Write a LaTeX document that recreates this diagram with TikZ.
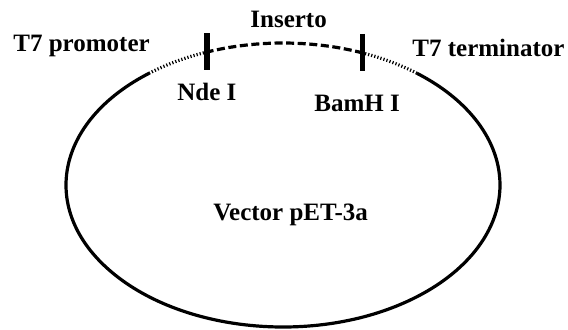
\documentclass[tikz,border=0pt]{standalone}
\usepackage{fontspec}
\setmainfont{Liberation Serif}
\begin{document}
\begin{tikzpicture}[x=0.5pt,y=0.5pt,
  label/.style={inner sep=0pt,anchor=base west,font=\fontsize{12.5}{14}\selectfont\bfseries},
  backbone/.style={line width=1.6pt},
  promo/.style={line width=1.6pt,dash pattern=on 0.6pt off 1pt},
  insert/.style={line width=1.6pt,dash pattern=on 4pt off 1.8pt},
  site/.style={line width=2.6pt}]
\useasboundingbox (0,0) rectangle (568,329);
% plasmid outline: centre (283,144), radii 217 x 142
\coordinate (c) at (283,144);
\path (c) ++(127.8:217 and 142) coordinate (pL);
\path (c) ++(110.5:217 and 142) coordinate (nde);
\path (c) ++(68.4:217 and 142) coordinate (bam);
\path (c) ++(51.9:217 and 142) coordinate (pR);
% vector backbone
\draw[backbone] (pL) arc[start angle=127.8,end angle=411.9,x radius=217,y radius=142];
% promoter and terminator
\draw[promo] (nde) arc[start angle=110.5,end angle=127.8,x radius=217,y radius=142];
\draw[promo] (pR) arc[start angle=51.9,end angle=68.4,x radius=217,y radius=142];
% insert between the restriction sites
\draw[insert] (bam) arc[start angle=68.4,end angle=110.5,x radius=217,y radius=142];
% restriction site marks
\draw[site] ([yshift=9.5pt]nde) -- ([yshift=-9pt]nde);
\draw[site] ([yshift=9.5pt]bam) -- ([yshift=-9pt]bam);
% labels
\node[label] (prom) at (13,278) {T7 promoter};
\node[label] (ins) at (250,302) {Inserto};
\node[label] (term) at (412,273) {T7 terminator};
\node[label] (ndel) at (177,229) {Nde I};
\node[label] (baml) at (314,218) {BamH I};
\node[label] (vec) at (213,109) {Vector pET-3a};
\end{tikzpicture}
\end{document}
